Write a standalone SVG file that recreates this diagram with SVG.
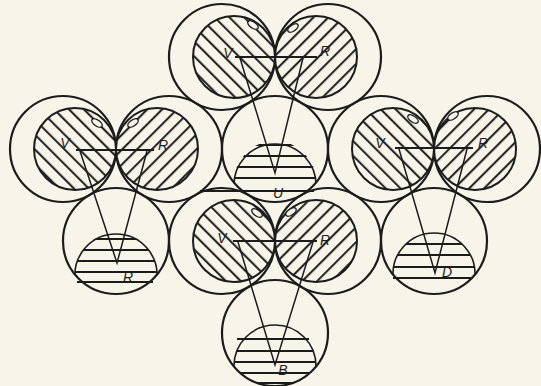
<svg xmlns="http://www.w3.org/2000/svg" width="541" height="386" viewBox="0 0 541 386">
<style>
.o{fill:none;stroke:#1c1c1c;stroke-width:2.2}
.in{stroke:#1c1c1c;stroke-width:2}
.hl{stroke:#1c1c1c;stroke-width:2}
.dl{stroke:#1c1c1c;stroke-width:2}
.arc{fill:none;stroke:#1c1c1c;stroke-width:1.6}
.blob{fill:#f7f4e9;stroke:#1c1c1c;stroke-width:1.4}
.base{stroke:#1c1c1c;stroke-width:2.2}
.tri{fill:none;stroke:#1c1c1c;stroke-width:1.5;stroke-linejoin:miter}
.lb{font-family:"Liberation Sans",Arial,sans-serif;font-style:italic;font-size:14px;fill:#1c1c1c;text-anchor:middle}
</style>
<defs>
<pattern id="hb" patternUnits="userSpaceOnUse" width="10.5" height="10.5" patternTransform="rotate(-45)">
<rect width="10.5" height="10.5" fill="#f7f4e9"/>
<line x1="3" y1="0" x2="3" y2="10.5" class="hl"/>
</pattern>
<pattern id="hf" patternUnits="userSpaceOnUse" width="10.5" height="10.5" patternTransform="rotate(45)">
<rect width="10.5" height="10.5" fill="#f7f4e9"/>
<line x1="3" y1="0" x2="3" y2="10.5" class="hl"/>
</pattern>
<clipPath id="cT"><circle cx="275" cy="149" r="53"/></clipPath>
<clipPath id="dT"><circle cx="275" cy="182" r="41"/></clipPath>
<clipPath id="cL"><circle cx="116" cy="241" r="53"/></clipPath>
<clipPath id="dL"><circle cx="116" cy="274" r="41"/></clipPath>
<clipPath id="cR"><circle cx="434" cy="241" r="53"/></clipPath>
<clipPath id="dR"><circle cx="434" cy="274" r="41"/></clipPath>
<clipPath id="cB"><circle cx="275" cy="333" r="53"/></clipPath>
<clipPath id="dB"><circle cx="275" cy="366" r="41"/></clipPath>
</defs>
<rect width="541" height="386" fill="#f7f4e9"/>

<g id="group-top">
<circle class="o" cx="222" cy="57" r="53"/>
<circle class="o" cx="328" cy="57" r="53"/>
<circle class="in" cx="234" cy="57" r="41" fill="url(#hb)"/>
<circle class="in" cx="316" cy="57" r="41" fill="url(#hf)"/>
<ellipse class="blob" cx="253" cy="25" rx="6" ry="3" transform="rotate(35 253 25)"/>
<ellipse class="blob" cx="293" cy="28" rx="6" ry="3" transform="rotate(-35 293 28)"/>
<circle class="o" cx="275" cy="149" r="53"/>
<g clip-path="url(#cT)">
<path class="arc" d="M234.2,189 A41 41 0 1 1 315.8,189"/>
<g clip-path="url(#dT)">
<line class="dl" x1="220" y1="145" x2="330" y2="145"/>
<line class="dl" x1="220" y1="156" x2="330" y2="156"/>
<line class="dl" x1="220" y1="167" x2="330" y2="167"/>
<line class="dl" x1="220" y1="178" x2="330" y2="178"/>
</g>
</g>
<line class="base" x1="200" y1="191" x2="314" y2="191"/>
<text class="lb" x="228" y="58">V</text>
<text class="lb" x="325" y="56">R</text>
<text class="lb" x="278" y="198">U</text>
</g>

<g id="group-left">
<circle class="o" cx="63" cy="149" r="53"/>
<circle class="o" cx="169" cy="149" r="53"/>
<circle class="in" cx="75" cy="149" r="41" fill="url(#hb)"/>
<circle class="in" cx="157" cy="149" r="41" fill="url(#hf)"/>
<ellipse class="blob" cx="97" cy="123" rx="6" ry="3" transform="rotate(35 97 123)"/>
<ellipse class="blob" cx="133" cy="123" rx="6" ry="3" transform="rotate(-35 133 123)"/>
<circle class="o" cx="116" cy="241" r="53"/>
<g clip-path="url(#cL)">
<path class="arc" d="M75.6,282 A41 41 0 1 1 156.4,282"/>
<g clip-path="url(#dL)">
<line class="dl" x1="60" y1="239" x2="170" y2="239"/>
<line class="dl" x1="60" y1="250" x2="170" y2="250"/>
<line class="dl" x1="60" y1="261" x2="170" y2="261"/>
<line class="dl" x1="60" y1="272" x2="170" y2="272"/>
</g>
</g>
<line class="base" x1="77" y1="282" x2="153" y2="282"/>
<text class="lb" x="65" y="148">V</text>
<text class="lb" x="163" y="150">R</text>
<text class="lb" x="128" y="282">R</text>
</g>

<g id="group-right">
<circle class="o" cx="381" cy="149" r="53"/>
<circle class="o" cx="487" cy="149" r="53"/>
<circle class="in" cx="393" cy="149" r="41" fill="url(#hb)"/>
<circle class="in" cx="475" cy="149" r="41" fill="url(#hf)"/>
<ellipse class="blob" cx="413" cy="119" rx="6" ry="3" transform="rotate(35 413 119)"/>
<ellipse class="blob" cx="453" cy="116" rx="6" ry="3" transform="rotate(-35 453 116)"/>
<circle class="o" cx="434" cy="241" r="53"/>
<g clip-path="url(#cR)">
<path class="arc" d="M393.2,278 A41 41 0 1 1 474.8,278"/>
<g clip-path="url(#dR)">
<line class="dl" x1="380" y1="244" x2="490" y2="244"/>
<line class="dl" x1="380" y1="255" x2="490" y2="255"/>
<line class="dl" x1="380" y1="267" x2="490" y2="267"/>
</g>
</g>
<line class="base" x1="393" y1="278" x2="473" y2="278"/>
<text class="lb" x="380" y="148">V</text>
<text class="lb" x="483" y="148">R</text>
<text class="lb" x="447" y="277">D</text>
</g>

<g id="group-bottom">
<circle class="o" cx="222" cy="241" r="53"/>
<circle class="o" cx="328" cy="241" r="53"/>
<circle class="in" cx="234" cy="241" r="41" fill="url(#hb)"/>
<circle class="in" cx="316" cy="241" r="41" fill="url(#hf)"/>
<ellipse class="blob" cx="257" cy="213" rx="6" ry="3" transform="rotate(35 257 213)"/>
<ellipse class="blob" cx="291" cy="212" rx="6" ry="3" transform="rotate(-35 291 212)"/>
<circle class="o" cx="275" cy="333" r="53"/>
<g clip-path="url(#cB)">
<circle class="arc" cx="275" cy="366" r="41"/>
<g clip-path="url(#dB)">
<line class="dl" x1="220" y1="351" x2="330" y2="351"/>
<line class="dl" x1="220" y1="362" x2="330" y2="362"/>
<line class="dl" x1="220" y1="373" x2="330" y2="373"/>
<line class="dl" x1="220" y1="383" x2="330" y2="383"/>
</g>
</g>
<line class="base" x1="237" y1="339" x2="309" y2="339"/>
<text class="lb" x="222" y="243">V</text>
<text class="lb" x="325" y="245">R</text>
<text class="lb" x="283" y="375">B</text>
</g>

<g id="connectors">
<line class="base" x1="235" y1="57" x2="317" y2="57"/>
<polyline class="tri" points="240,58 275,173 303,58"/>
<line class="base" x1="76" y1="150" x2="154" y2="150"/>
<polyline class="tri" points="80,151 117,263 147,151"/>
<line class="base" x1="395" y1="148" x2="473" y2="148"/>
<polyline class="tri" points="399,149 435,273 467,149"/>
<line class="base" x1="233" y1="241" x2="317" y2="241"/>
<polyline class="tri" points="238,242 275,365 313,242"/>
</g>
</svg>
